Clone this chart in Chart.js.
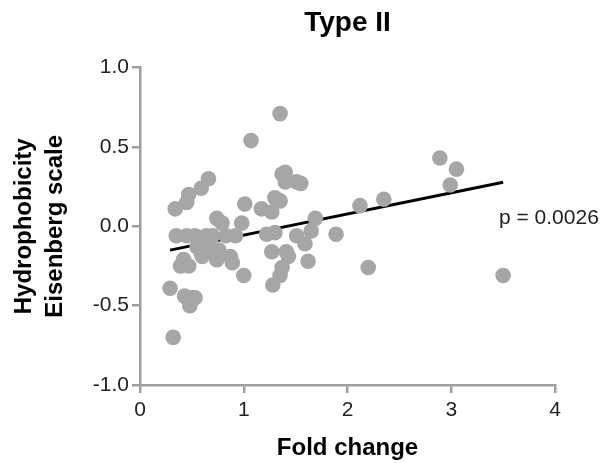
<!DOCTYPE html>
<html>
<head>
<meta charset="utf-8">
<script src="https://cdn.jsdelivr.net/npm/chart.js@4/dist/chart.umd.min.js"></script>
<style>
  html, body { margin: 0; padding: 0; background: #fff; }
  #wrap { width: 606px; height: 463px; }
</style>
</head>
<body>
<div id="wrap"><canvas id="typeChart" width="606" height="463"></canvas></div>
<script>
// Type II: hydrophobicity vs fold change.

const foldChange = [
    0.29, 0.32, 0.34, 0.35, 0.45, 0.47, 0.59, 0.66, 0.39, 0.42,
    0.47, 0.43, 0.48, 0.50, 0.53, 0.45, 0.53, 0.55, 0.59, 0.61,
    0.64, 0.70, 0.74, 0.74, 0.74, 0.79, 0.83, 0.87, 0.92, 0.89,
    0.68, 0.60, 0.76, 0.98, 1.01, 1.00, 1.07, 1.17, 1.27, 1.22,
    1.30, 1.27, 1.28, 1.35, 1.37, 1.30, 1.35, 1.35, 1.37, 1.40,
    1.40, 1.51, 1.55, 1.41, 1.43, 1.51, 1.59, 1.62, 1.65, 1.69,
    1.89, 2.12, 2.20, 2.35, 2.89, 2.99, 3.05, 3.50
];
const hydrophobicity = [
    -0.39, -0.70, 0.11, -0.06, 0.15, 0.20, 0.24, 0.30, -0.25, -0.21,
    -0.25, -0.44, -0.50, -0.45, -0.45, -0.06, -0.06, -0.13, -0.17, -0.12,
    -0.06, -0.06, -0.17, -0.21, 0.05, 0.02, -0.06, -0.19, -0.06, -0.23,
    -0.14, -0.19, -0.15, 0.02, 0.14, -0.31, 0.54, 0.11, 0.09, -0.05,
    -0.04, -0.16, -0.37, -0.31, -0.26, 0.18, 0.16, 0.71, 0.33, 0.34,
    0.28, 0.28, 0.27, -0.16, -0.19, -0.06, -0.11, -0.22, -0.03, 0.05,
    -0.05, 0.13, -0.26, 0.17, 0.43, 0.26, 0.36, -0.31
];

// regression line end points
const fitX = [0.29, 3.50];
const fitY = [-0.15, 0.277];

const xTickValues = [0, 1, 2, 3, 4];
const yTickValues = [-1.0, -0.5, 0.0, 0.5, 1.0];

const pValueText = 'p = 0.0026';

const FONT = '"Liberation Sans", Arial, Helvetica, sans-serif';
const AXIS_GREY = '#9e9e9e';


function buildPoints(xs, ys) {
    return xs.map((x, i) => ({ x: x, y: ys[i] }));
}


// Draws the p-value next to the fit line
const pValuePlugin = {
    id: 'pValue',
    afterDatasetsDraw(chart) {
        const { ctx, scales } = chart;
        ctx.save();
        ctx.font = '21px ' + FONT;
        ctx.fillStyle = '#222';
        ctx.textAlign = 'left';
        ctx.textBaseline = 'middle';
        ctx.fillText(pValueText, scales.x.getPixelForValue(3.46), scales.y.getPixelForValue(0.05));
        ctx.restore();
    }
};


const ctx = document.getElementById('typeChart').getContext('2d');

new Chart(ctx, {
    type: 'scatter',
    data: {
        datasets: [
            {
                label: 'Proteins',
                data: buildPoints(foldChange, hydrophobicity),
                backgroundColor: '#a6a6a6',
                borderWidth: 0,
                pointRadius: 7.8,
                order: 1
            },
            {
                label: 'Fit',
                type: 'line',
                data: buildPoints(fitX, fitY),
                borderColor: '#000',
                borderWidth: 3,
                pointRadius: 0,
                fill: false,
                order: 2
            }
        ]
    },
    options: {
        responsive: false,
        animation: false,
        layout: {
            padding: { left: 0, right: 51, top: 0, bottom: 0 }
        },
        plugins: {
            legend: { display: false },
            tooltip: { enabled: false },
            title: {
                display: true,
                text: 'Type II',
                fullSize: false,
                color: '#000',
                font: { family: FONT, size: 28, weight: 'bold', lineHeight: 1.2 },
                padding: { top: 6, bottom: 28 }
            }
        },
        scales: {
            x: {
                type: 'linear',
                min: 0,
                max: 4,
                afterBuildTicks: scale => { scale.ticks = xTickValues.map(v => ({ value: v })); },
                afterFit: scale => { scale.height = 78; },
                border: { display: true, color: AXIS_GREY, width: 2.5 },
                grid: { drawOnChartArea: false, drawTicks: true, tickLength: 8, color: AXIS_GREY, lineWidth: 2.5 },
                ticks: {
                    color: '#222',
                    padding: 5,
                    maxRotation: 0,
                    font: { family: FONT, size: 21 },
                    callback: value => String(value)
                },
                title: {
                    display: true,
                    text: 'Fold change',
                    color: '#000',
                    font: { family: FONT, size: 24, weight: 'bold', lineHeight: 1.2 },
                    padding: { top: 0, bottom: 0 }
                }
            },
            y: {
                type: 'linear',
                min: -1,
                max: 1,
                afterBuildTicks: scale => { scale.ticks = yTickValues.map(v => ({ value: v })); },
                afterFit: scale => { scale.width = 140; },
                border: { display: true, color: AXIS_GREY, width: 2.5 },
                grid: { drawOnChartArea: false, drawTicks: true, tickLength: 8, color: AXIS_GREY, lineWidth: 2.5 },
                ticks: {
                    color: '#222',
                    padding: 3,
                    font: { family: FONT, size: 21 },
                    callback: value => Number(value).toFixed(1)
                },
                title: {
                    display: true,
                    text: ['Hydrophobicity', 'Eisenberg scale'],
                    color: '#000',
                    font: { family: FONT, size: 24, weight: 'bold', lineHeight: 1.3 },
                    padding: { top: 9, bottom: 0 }
                }
            }
        }
    },
    plugins: [pValuePlugin]
});
</script>
</body>
</html>
